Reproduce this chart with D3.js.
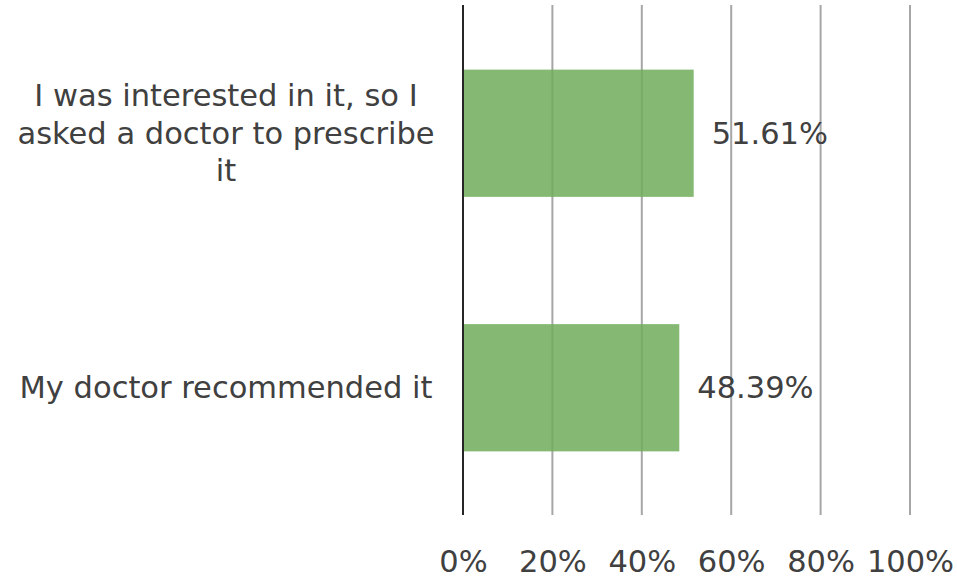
<!DOCTYPE html>
<html>
<head>
<meta charset="utf-8">
<script src="https://cdn.jsdelivr.net/npm/d3@7"></script>
<style>
  html, body { margin: 0; padding: 0; background: #fff; }
  svg { display: block; }
  text { font-family: "DejaVu Sans", Verdana, sans-serif; fill: #404040; }
</style>
</head>
<body>
<svg id="chart" width="957" height="578"></svg>
<script>
// Survey answers and their shares (percent)
const categories = [
  "I was interested in it, so I asked a doctor to prescribe it",
  "My doctor recommended it"
];
const categoryLines = [
  ["I was interested in it, so I", "asked a doctor to prescribe", "it"],
  ["My doctor recommended it"]
];
const values = [51.61, 48.39];
const tickValues = [0, 20, 40, 60, 80, 100];

const svg = d3.select("#chart");
const plotLeft = 463, plotRight = 910, plotTop = 6, plotBottom = 515;
const fontSize = 30.5;

const x = d3.scaleLinear().domain([0, 100]).range([plotLeft, plotRight]);
const y = d3.scaleBand().domain(categories).range([plotTop, plotBottom])
  .paddingInner(0.5).paddingOuter(0.25);

// Vertical gridlines
svg.append("g").selectAll("line").data(tickValues.slice(1)).join("line")
  .attr("x1", d => x(d)).attr("x2", d => x(d))
  .attr("y1", plotTop - 1).attr("y2", plotBottom)
  .attr("stroke", "#a6a6a6").attr("stroke-width", 2);

// Bars
svg.append("g").selectAll("rect").data(values).join("rect")
  .attr("x", x(0))
  .attr("y", (d, i) => y(categories[i]))
  .attr("width", d => x(d) - x(0))
  .attr("height", y.bandwidth())
  .attr("fill", "#70ad5a").attr("fill-opacity", 0.85);

// Category axis line
svg.append("line")
  .attr("x1", x(0)).attr("x2", x(0))
  .attr("y1", plotTop - 1).attr("y2", plotBottom)
  .attr("stroke", "#262626").attr("stroke-width", 2);

// Value labels
svg.append("g").selectAll("text").data(values).join("text")
  .attr("x", d => x(d) + 18)
  .attr("y", (d, i) => y(categories[i]) + y.bandwidth() / 2)
  .attr("dy", "0.35em")
  .attr("font-size", fontSize)
  .text(d => d.toFixed(2) + "%");

// Category labels (wrapped, centred)
const lineH = 37.5;
svg.append("g").selectAll("text").data(categoryLines).join("text")
  .attr("text-anchor", "middle")
  .attr("font-size", fontSize)
  .each(function(lines, i) {
    const cy = y(categories[i]) + y.bandwidth() / 2;
    const y0 = cy - (lines.length - 1) * lineH / 2;
    d3.select(this).selectAll("tspan").data(lines).join("tspan")
      .attr("x", 226)
      .attr("y", (l, j) => y0 + j * lineH)
      .attr("dy", "0.35em")
      .text(l => l);
  });

// Percentage axis tick labels
const xAxis = d3.axisBottom(x).tickValues(tickValues)
  .tickFormat(d => d + "%").tickSize(0).tickPadding(0);
const ax = svg.append("g").attr("transform", "translate(0, 561.5)").call(xAxis);
ax.select(".domain").remove();
ax.selectAll("text")
  .attr("font-size", fontSize)
  .attr("font-family", "DejaVu Sans, Verdana, sans-serif")
  .attr("fill", "#404040")
  .attr("dy", "0.35em")
  .attr("y", 0);
</script>
</body>
</html>
